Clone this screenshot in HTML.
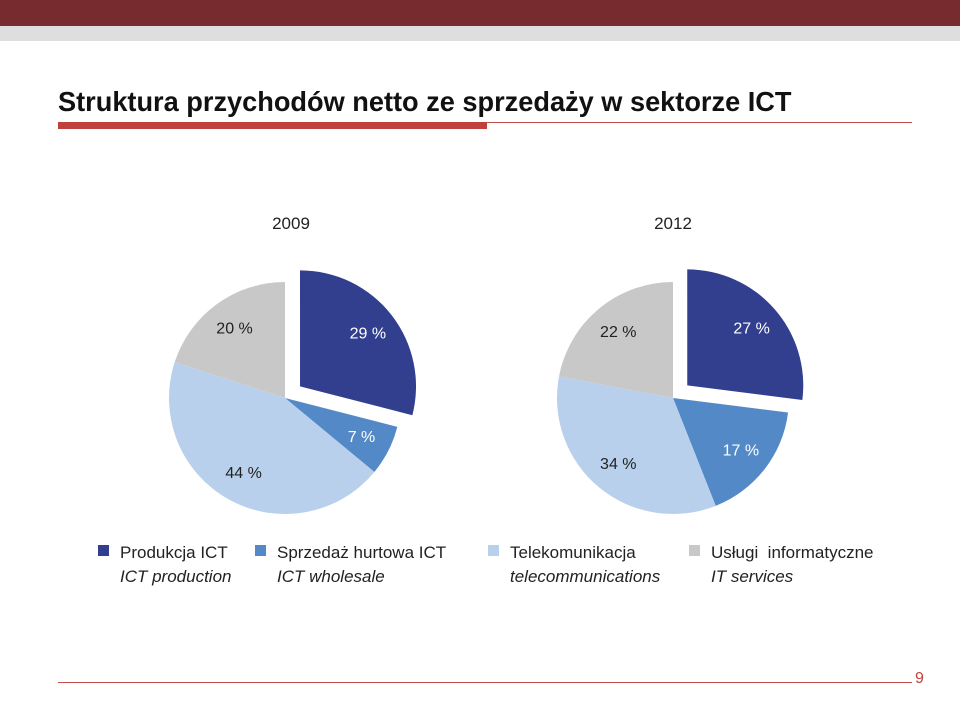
<!DOCTYPE html>
<html><head><meta charset="utf-8"><style>
body{margin:0;width:960px;height:707px;position:relative;background:#fff;font-family:"Liberation Sans",sans-serif;overflow:hidden}
.a{position:absolute}
</style></head><body>
<div class="a" style="left:0;top:0;width:960px;height:26px;background:#772b2e"></div>
<div class="a" style="left:0;top:26px;width:960px;height:15px;background:#dedede"></div>
<div class="a" style="left:58px;top:86px;font-size:28px;font-weight:bold;color:#111;white-space:nowrap;transform:scaleX(0.97);transform-origin:left top">Struktura przychodów netto ze sprzedaży w sektorze ICT</div>
<div class="a" style="left:58px;top:122px;width:854px;height:1px;background:#c0504d"></div>
<div class="a" style="left:58px;top:122px;width:429px;height:7px;background:#c0413b"></div>
<svg class="a" style="left:0;top:0" width="960" height="707" id="chart">
<text x="291" y="229" text-anchor="middle" font-size="17" fill="#222" font-family="Liberation Sans,sans-serif">2009</text>
<text x="673" y="229" text-anchor="middle" font-size="17" fill="#222" font-family="Liberation Sans,sans-serif">2012</text>
</svg>
<div class="a" style="left:0;top:0;font-size:17px;line-height:24px;color:#222">
<div class="a" style="left:98px;top:541px;width:160px">
<div class="a" style="left:0;top:4px;width:11px;height:11px;background:#323f8f"></div>
<div class="a" style="left:22px;top:0;white-space:nowrap">Produkcja ICT<br><i>ICT production</i></div></div>
<div class="a" style="left:255px;top:541px;width:220px">
<div class="a" style="left:0;top:4px;width:11px;height:11px;background:#5489c8"></div>
<div class="a" style="left:22px;top:0;white-space:nowrap">Sprzedaż hurtowa ICT<br><i>ICT wholesale</i></div></div>
<div class="a" style="left:488px;top:541px;width:200px">
<div class="a" style="left:0;top:4px;width:11px;height:11px;background:#b9d0ec"></div>
<div class="a" style="left:22px;top:0;white-space:nowrap">Telekomunikacja<br><i>telecommunications</i></div></div>
<div class="a" style="left:689px;top:541px;width:220px">
<div class="a" style="left:0;top:4px;width:11px;height:11px;background:#c8c8c8"></div>
<div class="a" style="left:22px;top:0;white-space:nowrap">Usługi&nbsp; informatyczne<br><i>IT services</i></div></div>
</div>
<div class="a" style="left:58px;top:682px;width:854px;height:1px;background:#c0504d"></div>
<div class="a" style="left:915px;top:670px;font-size:16px;color:#c0413b">9</div>
<script>
const categories=["Produkcja ICT","Sprzedaż hurtowa ICT","Telekomunikacja","Usługi informatyczne"];
const values2009=[29,7,44,20];
const values2012=[27,17,34,22];
const colors=["#323f8f","#5489c8","#b9d0ec","#c8c8c8"];
const labelColors=["#fff","#fff","#222","#222"];
const svg=document.getElementById('chart');
const NS="http://www.w3.org/2000/svg";
function drawPie(vals,cx,cy,r,name){
  const total=vals.reduce((a,b)=>a+b,0);
  let a0=0;
  vals.forEach((v,i)=>{
    const a1=a0+v/total*2*Math.PI;
    const mid=(a0+a1)/2;
    const off=i===0?19:0;
    const ox=cx+off*Math.sin(mid), oy=cy-off*Math.cos(mid);
    const x0=ox+r*Math.sin(a0), y0=oy-r*Math.cos(a0);
    const x1=ox+r*Math.sin(a1), y1=oy-r*Math.cos(a1);
    const p=document.createElementNS(NS,'path');
    p.setAttribute('d',`M${ox},${oy}L${x0},${y0}A${r},${r} 0 ${a1-a0>Math.PI?1:0} 1 ${x1},${y1}Z`);
    p.setAttribute('fill',colors[i]);
    
    
    svg.appendChild(p);
    const lr=r*0.74;
    const t=document.createElementNS(NS,'text');
    t.setAttribute('x',ox+lr*Math.sin(mid));
    t.setAttribute('y',oy-lr*Math.cos(mid)+5);
    t.setAttribute('text-anchor','middle');
    t.setAttribute('font-size','16');
    t.setAttribute('font-family','Liberation Sans,sans-serif');
    t.setAttribute('fill',labelColors[i]);
    t.textContent=v+' %';
    
    
    svg.appendChild(t);
    a0=a1;
  });
}
drawPie(values2009,285,398,116,'pie-2009');
drawPie(values2012,673,398,116,'pie-2012');
</script>
</body></html>
